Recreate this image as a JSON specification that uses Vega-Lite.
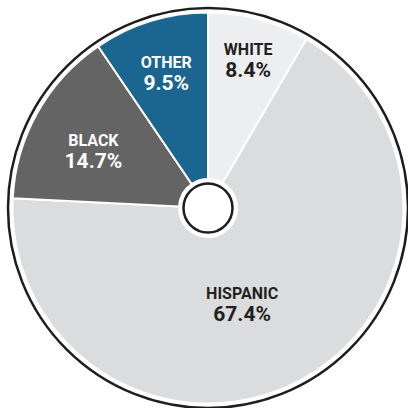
{
  "$schema": "https://vega.github.io/schema/vega-lite/v6.json",
  "autosize": "none",
  "width": 400,
  "height": 400,
  "padding": {"left": 8, "top": 8, "right": 0, "bottom": 0},
  "background": "white",
  "config": {"view": {"stroke": null}},
  "data": {
    "values": [
      {"group": "WHITE", "share": 0.084, "rank": 1},
      {"group": "HISPANIC", "share": 0.674, "rank": 2},
      {"group": "BLACK", "share": 0.147, "rank": 3},
      {"group": "OTHER", "share": 0.095, "rank": 4}
    ]
  },
  "layer": [
    {
      "transform": [{"aggregate": [{"op": "count", "as": "n"}]}],
      "mark": {"type": "point", "shape": "circle", "filled": false, "stroke": "#1d1d1d", "strokeWidth": 2.5, "size": 160000, "opacity": 1},
      "encoding": {}
    },
    {
      "mark": {"type": "arc", "outerRadius": 195.5, "innerRadius": 29, "stroke": "white", "strokeWidth": 2},
      "encoding": {
        "theta": {"field": "share", "type": "quantitative", "stack": true},
        "order": {"field": "rank", "type": "quantitative"},
        "color": {
          "field": "group",
          "type": "nominal",
          "scale": {"domain": ["WHITE", "HISPANIC", "BLACK", "OTHER"], "range": ["#eceef0", "#dbdcdd", "#646464", "#1a6690"]},
          "legend": null
        }
      }
    },
    {
      "transform": [{"aggregate": [{"op": "count", "as": "n"}]}],
      "mark": {"type": "point", "shape": "circle", "filled": false, "stroke": "#1d1d1d", "strokeWidth": 2.5, "size": 2401, "opacity": 1},
      "encoding": {}
    },
    {
      "mark": {
        "type": "text",
        "font": "Roboto",
        "fontWeight": "bold",
        "fontSize": 16,
        "baseline": "alphabetic",
        "align": "center",
        "radius": {"expr": "datum.group === 'HISPANIC' ? 101 : datum.group === 'WHITE' ? 154 : datum.group === 'OTHER' ? 142 : 128"},
        "dx": {"expr": "datum.group === 'HISPANIC' ? -14 : datum.group === 'BLACK' ? -3 : 0"},
        "dy": {"expr": "(datum.group === 'HISPANIC' ? 6 : datum.group === 'BLACK' ? 4.5 : 0) - 4"}
      },
      "encoding": {
        "theta": {"field": "share", "type": "quantitative", "stack": true},
        "order": {"field": "rank", "type": "quantitative"},
        "detail": {"field": "group", "type": "nominal"},
        "text": {"field": "group", "type": "nominal"},
        "color": {"condition": {"test": "datum.group === 'BLACK' || datum.group === 'OTHER'", "value": "#ffffff"}, "value": "#231f20"}
      }
    },
    {
      "mark": {
        "type": "text",
        "font": "Roboto",
        "fontWeight": "bold",
        "fontSize": 21,
        "baseline": "alphabetic",
        "align": "center",
        "radius": {"expr": "datum.group === 'HISPANIC' ? 101 : datum.group === 'WHITE' ? 154 : datum.group === 'OTHER' ? 142 : 128"},
        "dx": {"expr": "datum.group === 'HISPANIC' ? -14 : datum.group === 'BLACK' ? -3 : 0"},
        "dy": {"expr": "(datum.group === 'HISPANIC' ? 6 : datum.group === 'BLACK' ? 4.5 : 0) + 18"}
      },
      "encoding": {
        "theta": {"field": "share", "type": "quantitative", "stack": true},
        "order": {"field": "rank", "type": "quantitative"},
        "detail": {"field": "group", "type": "nominal"},
        "text": {"field": "share", "type": "quantitative", "format": ".1%"},
        "color": {"condition": {"test": "datum.group === 'BLACK' || datum.group === 'OTHER'", "value": "#ffffff"}, "value": "#231f20"}
      }
    }
  ]
}
